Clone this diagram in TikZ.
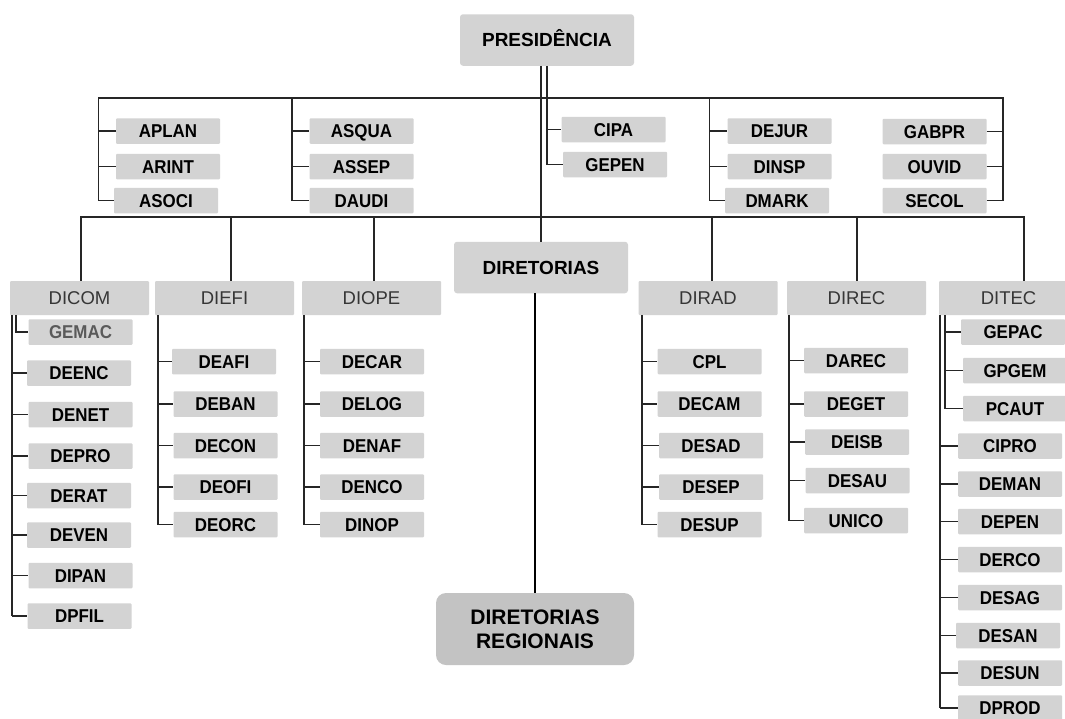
\documentclass[tikz,border=0pt]{standalone}
\usepackage{fontspec}
\setmainfont{Liberation Sans}
\newfontfamily\subfont[FakeStretch=0.91]{Liberation Sans}
\definecolor{boxgray}{HTML}{D3D3D3}
\definecolor{reggray}{HTML}{C3C3C3}
\definecolor{wirecol}{HTML}{262626}
\definecolor{headtext}{HTML}{363636}
\definecolor{gemactext}{HTML}{5A5A5A}
\begin{document}
\begin{tikzpicture}[x=1pt,y=-1pt,
  subbox/.style={fill=boxgray, minimum width=104pt, minimum height=25.5pt, inner sep=0pt,
    rounded corners=1pt, font=\subfont\fontsize{18.6}{20}\selectfont\bfseries, text=black,
    text height=13.3pt, text depth=0pt},
  headbox/.style={fill=boxgray, minimum width=139pt, minimum height=34pt, inner sep=0pt,
    rounded corners=1pt, font=\fontsize{18.5}{20}\selectfont, text=headtext,
    text height=13.2pt, text depth=0pt},
  mainbox/.style={fill=boxgray, minimum width=174pt, minimum height=51.5pt, inner sep=0pt,
    rounded corners=3pt, font=\fontsize{19}{21}\selectfont\bfseries, text=black,
    text height=13.6pt, text depth=0pt},
  regbox/.style={fill=reggray, minimum width=198pt, minimum height=72pt, inner sep=0pt,
    rounded corners=10pt, font=\fontsize{21}{24}\selectfont\bfseries, text=black, align=center},
  wire/.style={draw=wirecol, line width=1.3pt},
  thickwire/.style={draw=black, line width=2pt}
]
\clip (0,0) rectangle (1065,718);
\fill[white] (0,0) rectangle (1065,718);

% main boxes
\node[mainbox] (pres) at (547,40) {PRESIDÊNCIA};
\node[mainbox] (dir) at (541,267.5) {DIRETORIAS};
\node[regbox] (reg) at (535,629) {DIRETORIAS\\REGIONAIS};

% first level units
\node[subbox] (aplan) at (168,131) {APLAN};
\node[subbox] (arint) at (168,166.5) {ARINT};
\node[subbox] (asoci) at (166,200.5) {ASOCI};
\node[subbox] (asqua) at (361.5,131) {ASQUA};
\node[subbox] (assep) at (361.5,166.5) {ASSEP};
\node[subbox] (daudi) at (361.5,200.5) {DAUDI};
\node[subbox] (cipa) at (613.5,129.5) {CIPA};
\node[subbox] (gepen) at (615,164.5) {GEPEN};
\node[subbox] (dejur) at (779.5,131) {DEJUR};
\node[subbox] (dinsp) at (779.5,166.5) {DINSP};
\node[subbox] (dmark) at (777,200.5) {DMARK};
\node[subbox] (gabpr) at (934.5,131.5) {GABPR};
\node[subbox] (ouvid) at (934.5,166.5) {OUVID};
\node[subbox] (secol) at (934.5,200.5) {SECOL};

% directorates
\node[headbox] (dicom) at (79.5,298) {DICOM};
\node[headbox] (diefi) at (224.5,298) {DIEFI};
\node[headbox] (diope) at (371.5,298) {DIOPE};
\node[headbox] (dirad) at (708,298) {DIRAD};
\node[headbox] (direc) at (856.5,298) {DIREC};
\node[headbox] (ditec) at (1008.5,298) {DITEC};

% DICOM
\node[subbox, text=gemactext] (gemac) at (80.5,332) {GEMAC};
\node[subbox] (deenc) at (79,373) {DEENC};
\node[subbox] (denet) at (80.5,414.5) {DENET};
\node[subbox] (depro) at (80.5,456) {DEPRO};
\node[subbox] (derat) at (79,495.5) {DERAT};
\node[subbox] (deven) at (79,535) {DEVEN};
\node[subbox] (dipan) at (80.5,575.5) {DIPAN};
\node[subbox] (dpfil) at (79.5,616) {DPFIL};

% DIEFI
\node[subbox] (deafi) at (224,361.5) {DEAFI};
\node[subbox] (deban) at (225.5,404) {DEBAN};
\node[subbox] (decon) at (225.5,445.5) {DECON};
\node[subbox] (deofi) at (225.5,487) {DEOFI};
\node[subbox] (deorc) at (225.5,524.5) {DEORC};

% DIOPE
\node[subbox] (decar) at (372,361.5) {DECAR};
\node[subbox] (delog) at (372,404) {DELOG};
\node[subbox] (denaf) at (372,445.5) {DENAF};
\node[subbox] (denco) at (372,487) {DENCO};
\node[subbox] (dinop) at (372,524.5) {DINOP};

% DIRAD
\node[subbox] (cpl) at (709.5,361.5) {CPL};
\node[subbox] (decam) at (709.5,404) {DECAM};
\node[subbox] (desad) at (711,445.5) {DESAD};
\node[subbox] (desep) at (711,487) {DESEP};
\node[subbox] (desup) at (709.5,524.5) {DESUP};

% DIREC
\node[subbox] (darec) at (856,360.5) {DAREC};
\node[subbox] (deget) at (856,404) {DEGET};
\node[subbox] (deisb) at (857,442) {DEISB};
\node[subbox] (desau) at (857.5,480.5) {DESAU};
\node[subbox] (unico) at (856,520.5) {UNICO};

% DITEC
\node[subbox] (gepac) at (1013,332) {GEPAC};
\node[subbox] (gpgem) at (1015,370.5) {GPGEM};
\node[subbox] (pcaut) at (1015,408.5) {PCAUT};
\node[subbox] (cipro) at (1010,446) {CIPRO};
\node[subbox] (deman) at (1010,484) {DEMAN};
\node[subbox] (depen) at (1010,521.5) {DEPEN};
\node[subbox] (derco) at (1010,559.5) {DERCO};
\node[subbox] (desag) at (1010,597.5) {DESAG};
\node[subbox] (desan) at (1008,635.5) {DESAN};
\node[subbox] (desun) at (1010,673) {DESUN};
\node[subbox] (dprod) at (1010,708) {DPROD};

% bus coordinates
\coordinate (busA) at (98.5,98);
\coordinate (busB) at (292,98);
\coordinate (busD) at (709.5,98);
\coordinate (busE) at (1003,98);
\coordinate (bus2L) at (81,217);
\coordinate (bus2R) at (1024,217);
\coordinate (vDiefi) at (231,217);
\coordinate (vDiope) at (374,217);
\coordinate (vDirad) at (712,217);
\coordinate (vDirec) at (857,217);
\coordinate (vDicom) at (12,315);
\coordinate (vGemac) at (16,315);
\coordinate (vDiefiC) at (158,315);
\coordinate (vDiopeC) at (304,315);
\coordinate (vDiradC) at (642,315);
\coordinate (vDirecC) at (789,315);
\coordinate (vDitecC) at (940,315);
\coordinate (vDitecI) at (945,315);

% presidency links
\draw[wire] (pres.south -| dir.north) -- (dir.north);
\draw[wire] (pres.south) -- (pres.south |- gepen.west) -- (gepen.west);
\draw[wire] (pres.south |- cipa.west) -- (cipa.west);

% top bus
\draw[wire] (busA |- asoci.west) -- (busA) -- (busE) -- (busE |- secol.east);
\foreach \n in {aplan,arint,asoci} \draw[wire] (busA |- \n.west) -- (\n.west);
\draw[wire] (busB) -- (busB |- daudi.west);
\foreach \n in {asqua,assep,daudi} \draw[wire] (busB |- \n.west) -- (\n.west);
\draw[wire] (busD) -- (busD |- dmark.west);
\foreach \n in {dejur,dinsp,dmark} \draw[wire] (busD |- \n.west) -- (\n.west);
\foreach \n in {gabpr,ouvid,secol} \draw[wire] (\n.east) -- (busE |- \n.east);

% second bus
\draw[wire] (bus2L |- dicom.north) -- (bus2L) -- (bus2R) -- (bus2R |- ditec.north);
\draw[wire] (vDiefi) -- (vDiefi |- diefi.north);
\draw[wire] (vDiope) -- (vDiope |- diope.north);
\draw[wire] (vDirad) -- (vDirad |- dirad.north);
\draw[wire] (vDirec) -- (vDirec |- direc.north);

% columns
\draw[wire] (vDicom) -- (vDicom |- dpfil.west);
\draw[wire] (vGemac) |- (gemac.west);
\foreach \n in {deenc,denet,depro,derat,deven,dipan,dpfil} \draw[wire] (vDicom |- \n.west) -- (\n.west);

\draw[wire] (vDiefiC) -- (vDiefiC |- deorc.west);
\foreach \n in {deafi,deban,decon,deofi,deorc} \draw[wire] (vDiefiC |- \n.west) -- (\n.west);

\draw[wire] (vDiopeC) -- (vDiopeC |- dinop.west);
\foreach \n in {decar,delog,denaf,denco,dinop} \draw[wire] (vDiopeC |- \n.west) -- (\n.west);

\draw[wire] (vDiradC) -- (vDiradC |- desup.west);
\foreach \n in {cpl,decam,desad,desep,desup} \draw[wire] (vDiradC |- \n.west) -- (\n.west);

\draw[wire] (vDirecC) -- (vDirecC |- unico.west);
\foreach \n in {darec,deget,deisb,desau,unico} \draw[wire] (vDirecC |- \n.west) -- (\n.west);

\draw[wire] (vDitecC) -- (vDitecC |- dprod.west);
\draw[wire] (vDitecI) -- (vDitecI |- pcaut.west);
\foreach \n in {gepac,gpgem,pcaut} \draw[wire] (vDitecI |- \n.west) -- (\n.west);
\foreach \n in {cipro,deman,depen,derco,desag,desan,desun,dprod} \draw[wire] (vDitecC |- \n.west) -- (\n.west);

% regional link
\draw[thickwire] (reg.north |- dir.south) -- (reg.north);
\end{tikzpicture}
\end{document}
